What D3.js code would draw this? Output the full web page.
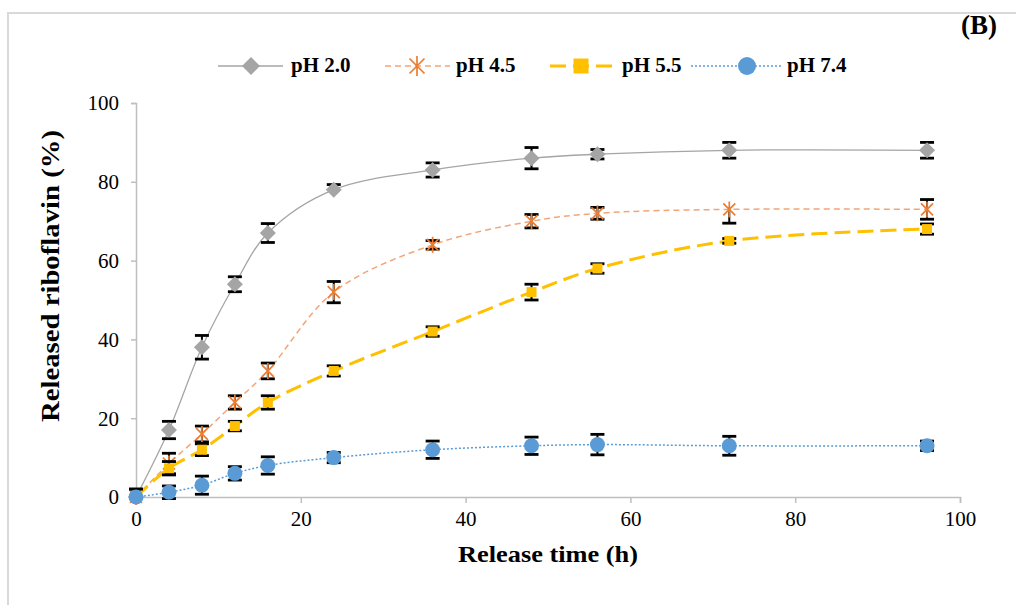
<!DOCTYPE html>
<html>
<head>
<meta charset="utf-8">
<script src="https://cdn.jsdelivr.net/npm/d3@7.9.0/dist/d3.min.js"></script>
<style>
  body { margin: 0; background: #fff; }
  svg { display: block; }
  text { font-family: "Liberation Serif", "Times New Roman", serif; fill: #000; }
</style>
</head>
<body>
<svg id="chart" width="1016" height="605"></svg>
<script>
// release times (h)
const times = [0, 4, 8, 12, 16, 24, 36, 48, 56, 72, 96];

// released riboflavin (%)
const ph20 = [0, 17, 38, 54, 67, 78, 83, 86, 87, 88, 88];
const ph45 = [0, 8.5, 16, 24, 32, 52, 64, 70, 72, 73, 73];
const ph55 = [0, 7.3, 12, 18, 24, 32, 42, 52, 58, 65, 68];
const ph74 = [0, 1.2, 3, 6, 8, 10, 12, 13, 13.3, 13, 13];

// error bars (up / down), some are one-sided in the picture
const ph20Up = [2, 2.2, 3, 1.9, 2.4, 1.3, 1.8, 2.7, 1.2, 2, 2];
const ph20Dn = [0, 2.2, 3, 1.9, 2.4, 0, 1.8, 2.7, 1.2, 2, 2];
const ph45Up = [0, 2.6, 2, 1.7, 2, 2.7, 1.1, 1.7, 1.5, 0, 2.5];
const ph45Dn = [0, 2.6, 2, 1.7, 2, 2.7, 1.1, 1.7, 1.5, 3.5, 2.5];
const ph55Up = [0, 1.7, 1.5, 1.2, 1.7, 1.3, 1.2, 2, 1.2, 0.6, 1.3];
const ph55Dn = [0, 1.7, 1.5, 1.2, 1.7, 1.3, 1.2, 2, 1.2, 0.6, 1.3];
const ph74Up = [2, 1.6, 2.3, 1.7, 2.2, 1.3, 2.2, 2.2, 2.6, 2.4, 1.2];
const ph74Dn = [0, 1.6, 2.3, 1.7, 2.2, 1.3, 2.2, 2.2, 2.6, 2.4, 1.2];

const seriesNames = ['pH 2.0', 'pH 4.5', 'pH 5.5', 'pH 7.4'];
const xTicks = [0, 20, 40, 60, 80, 100];
const yTicks = [0, 20, 40, 60, 80, 100];

const svg = d3.select('#chart');

// outer frame (runs off the right and bottom edge)
svg.append('rect')
  .attr('x', 8).attr('y', 13)
  .attr('width', 1030).attr('height', 620)
  .attr('fill', 'none')
  .attr('stroke', '#d9d9d9')
  .attr('stroke-width', 2);

const x = d3.scaleLinear().domain([0, 100]).range([136, 960]);
const y = d3.scaleLinear().domain([0, 100]).range([497, 103]);

// axes
const xAxis = svg.append('g')
  .attr('transform', `translate(0,${y(0)})`)
  .call(d3.axisBottom(x).tickValues(xTicks).tickSize(6).tickPadding(8));
const yAxis = svg.append('g')
  .attr('transform', `translate(${x(0)},0)`)
  .call(d3.axisLeft(y).tickValues(yTicks).tickSize(5).tickPadding(12));

[xAxis, yAxis].forEach(ax => {
  ax.select('.domain').attr('stroke', '#bfbfbf').attr('stroke-width', 1.5);
  ax.selectAll('.tick line').attr('stroke', '#bfbfbf').attr('stroke-width', 1.5);
  ax.selectAll('.tick text')
    .attr('font-size', 21)
    .attr('font-family', '"Liberation Serif", serif')
    .attr('fill', '#000');
});
yAxis.selectAll('.tick text').attr('dy', '0.33em');

// axis titles
svg.append('text')
  .attr('x', 548).attr('y', 562)
  .attr('text-anchor', 'middle')
  .attr('font-size', 24).attr('font-weight', 'bold')
  .attr('textLength', 180).attr('lengthAdjust', 'spacingAndGlyphs')
  .text('Release time (h)');

svg.append('text')
  .attr('transform', 'translate(59,276) rotate(-90)')
  .attr('text-anchor', 'middle')
  .attr('font-size', 25).attr('font-weight', 'bold')
  .attr('textLength', 292).attr('lengthAdjust', 'spacingAndGlyphs')
  .text('Released riboflavin (%)');

svg.append('text')
  .attr('x', 997).attr('y', 34)
  .attr('text-anchor', 'end')
  .attr('font-size', 27).attr('font-weight', 'bold')
  .text('(B)');

// series styles
const styles = [
  { line: '#a5a5a5', mark: '#a5a5a5', width: 1.3, dash: null, shape: 'diamond', size: 8 },
  { line: '#f2a577', mark: '#ed7d31', width: 1.5, dash: '6,4', shape: 'star', size: 8 },
  { line: '#ffc000', mark: '#ffc000', width: 3, dash: '16,7', shape: 'square', size: 5 },
  { line: '#5b9bd5', mark: '#5b9bd5', width: 1.5, dash: '2,2', shape: 'circle', size: 7.5 }
];
const values = [ph20, ph45, ph55, ph74];
const ups = [ph20Up, ph45Up, ph55Up, ph74Up];
const downs = [ph20Dn, ph45Dn, ph55Dn, ph74Dn];

function drawMarker(g, shape, color, cx, cy, s) {
  if (shape === 'diamond') {
    g.append('path')
      .attr('d', `M${cx},${cy - s}L${cx + s},${cy}L${cx},${cy + s}L${cx - s},${cy}Z`)
      .attr('fill', color);
  } else if (shape === 'star') {
    const d = s * 0.75;
    const p = `M${cx},${cy - s}L${cx},${cy + s}M${cx - d},${cy - d}L${cx + d},${cy + d}M${cx - d},${cy + d}L${cx + d},${cy - d}`;
    g.append('path').attr('d', p).attr('stroke', color).attr('stroke-width', 1.7).attr('fill', 'none');
  } else if (shape === 'square') {
    g.append('rect')
      .attr('x', cx - s).attr('y', cy - s)
      .attr('width', 2 * s).attr('height', 2 * s)
      .attr('fill', color);
  } else {
    g.append('circle').attr('cx', cx).attr('cy', cy).attr('r', s).attr('fill', color);
  }
}

const line = d3.line()
  .x(d => x(d[0]))
  .y(d => y(d[1]))
  .curve(d3.curveCatmullRom.alpha(0.5));

values.forEach((vals, i) => {
  const st = styles[i];
  const pts = times.map((t, j) => [t, vals[j]]);
  const g = svg.append('g');

  g.append('path')
    .datum(pts)
    .attr('d', line)
    .attr('fill', 'none')
    .attr('stroke', st.line)
    .attr('stroke-width', st.width)
    .attr('stroke-dasharray', st.dash);

  // error bars
  pts.forEach((p, j) => {
    const cx = x(p[0]);
    const top = y(p[1] + ups[i][j]);
    const bot = y(p[1] - downs[i][j]);
    if (top === bot) return;
    g.append('line')
      .attr('x1', cx).attr('x2', cx)
      .attr('y1', top).attr('y2', bot)
      .attr('stroke', '#000').attr('stroke-width', 2);
    [[ups[i][j], top], [downs[i][j], bot]].forEach(([e, yy]) => {
      if (e <= 0) return;
      g.append('line')
        .attr('x1', cx - 7).attr('x2', cx + 7)
        .attr('y1', yy).attr('y2', yy)
        .attr('stroke', '#000').attr('stroke-width', 2.8);
    });
  });

  pts.forEach(p => drawMarker(g, st.shape, st.mark, x(p[0]), y(p[1]), st.size));
});

// legend
const legendItems = [
  { x1: 218, x2: 283, mx: 251, tx: 291, ms: 9 },
  { x1: 385, x2: 450, mx: 417, tx: 456, ms: 10 },
  { x1: 550, x2: 612, mx: 581, tx: 622, ms: 7.5 },
  { x1: 691, x2: 783, mx: 747, tx: 787, ms: 9 }
];
const ly = 66;
legendItems.forEach((it, i) => {
  const st = styles[i];
  const g = svg.append('g');
  g.append('line')
    .attr('x1', it.x1).attr('x2', it.x2)
    .attr('y1', ly).attr('y2', ly)
    .attr('stroke', st.line)
    .attr('stroke-width', st.width)
    .attr('stroke-dasharray', st.dash);
  drawMarker(g, st.shape, st.mark, it.mx, ly, it.ms);
  g.append('text')
    .attr('x', it.tx).attr('y', ly + 6)
    .attr('font-size', 21).attr('font-weight', 'bold')
    .text(seriesNames[i]);
});
</script>
</body>
</html>
